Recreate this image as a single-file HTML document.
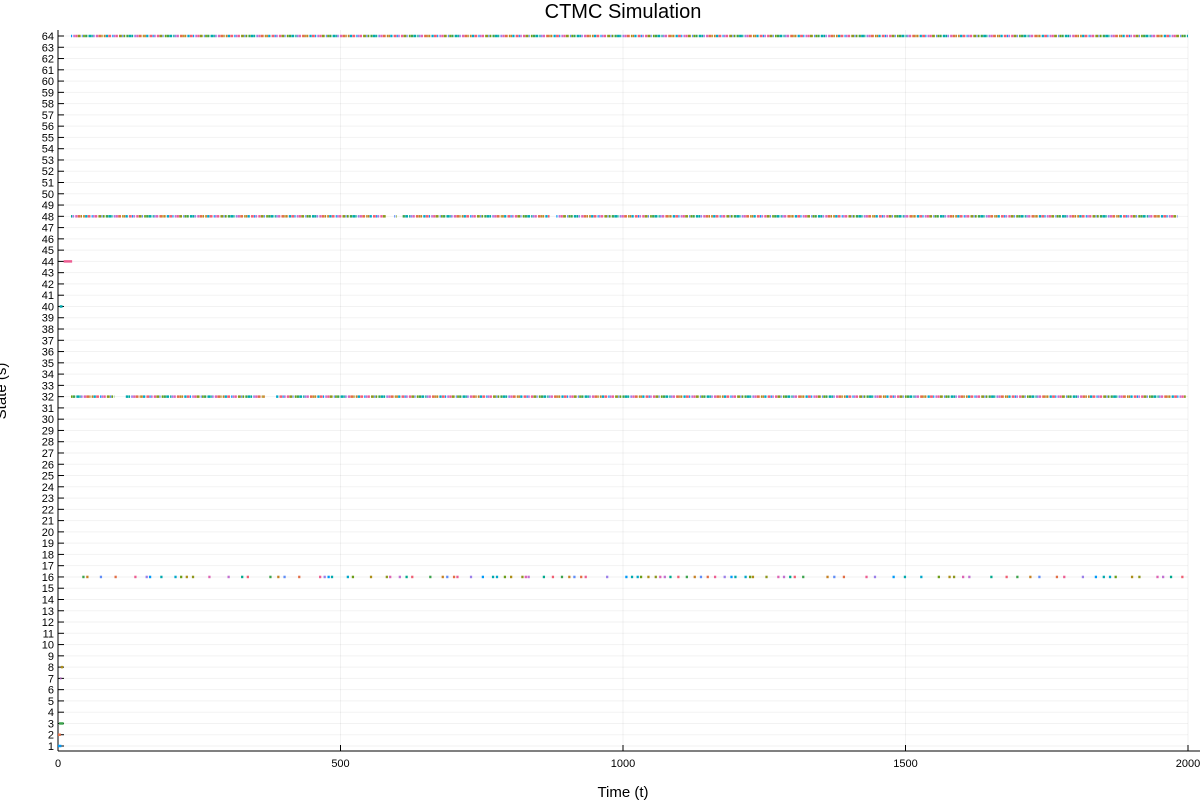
<!DOCTYPE html>
<html><head><meta charset="utf-8"><style>
body{margin:0;background:#fff}
svg{font-family:"Liberation Sans","DejaVu Sans",sans-serif}
</style></head><body>
<svg id="chart" width="1200" height="800"></svg>
<script>
const xTicks=[0,500,1000,1500,2000];
const yStates=[];for(let s=1;s<=64;s++)yStates.push(s);
// dense-occupancy rows: [state, start, end]
const denseIntervals=[
[64,23,2000],
[48,23,580],[48,595,600],[48,610,870],[48,882,1982],
[32,23,100],[32,120,366],[32,386,1996]
];
// short early visits: [state, start, end]
const earlyVisits=[[1,0,6],[2,0,5],[3,2,10],[7,4,6],[8,5,9],[40,3,8],[44,10,25]];
const earlyColors=["#009af9","#e26f46","#3da44d","#c271d2","#ac8e18","#00a9ad","#ed5e93"];
// sparse visits at state 16 (times)
const state16Times=[43,50,74,100,135,155,161,181,206,216,226,237,266,300,324,334,374,388,399,425,462,470,477,483,511,520,552,580,586,603,615,625,657,679,687,699,705,729,750,768,775,789,800,820,826,831,858,874,890,903,912,924,932,970,1004,1014,1024,1030,1043,1056,1064,1072,1082,1096,1111,1125,1136,1148,1161,1178,1190,1197,1215,1223,1228,1252,1273,1283,1294,1302,1317,1360,1372,1389,1429,1444,1477,1497,1526,1557,1576,1584,1600,1611,1650,1677,1696,1719,1735,1766,1779,1812,1835,1849,1860,1870,1899,1912,1944,1954,1968,1988];
const palette=["#009af9","#e26f46","#3da44d","#c271d2","#ac8e18","#00a9ad","#ed5e93","#c68225","#00a98d","#8e971d","#00a8cb","#9b7fe9","#618df6","#f05f73","#dd64b5","#6b9d18"];

const L=58,R=1188,T=36,B=746;
const X=t=>L+(t/2000)*(R-L);
const Y=s=>B-(s-1)/63*(B-T);
const svg=document.getElementById('chart');
const NS='http://www.w3.org/2000/svg';
function mk(tag,attrs,parent){const e=document.createElementNS(NS,tag);for(const k in attrs)e.setAttribute(k,attrs[k]);(parent||svg).appendChild(e);return e;}

const grid=mk('g',{});


yStates.forEach(s=>{mk('line',{x1:L,x2:R,y1:Y(s),y2:Y(s),stroke:'#000','stroke-opacity':0.05,'stroke-width':1},grid);});
xTicks.forEach(t=>{mk('line',{x1:X(t),x2:X(t),y1:T-6,y2:B+4,stroke:'#000','stroke-opacity':0.05,'stroke-width':1},grid);});

// axes
const ax=mk('g',{});


mk('line',{x1:L,x2:L,y1:30,y2:B+5,stroke:'#000','stroke-width':1},ax);
mk('line',{x1:L,x2:R+12,y1:B+5,y2:B+5,stroke:'#000','stroke-width':1},ax);
yStates.forEach(s=>{
  mk('line',{x1:L,x2:L+6,y1:Y(s),y2:Y(s),stroke:'#000','stroke-width':1},ax);
  const tx=mk('text',{x:L-4,y:Y(s)+4,'text-anchor':'end','font-size':11,fill:'#000'},ax);
  tx.textContent=s;
  
  
});
xTicks.forEach(t=>{
  mk('line',{x1:X(t),x2:X(t),y1:B+5,y2:B-1,stroke:'#000','stroke-width':1},ax);
  const tx=mk('text',{x:X(t),y:B+21,'text-anchor':'middle','font-size':11,fill:'#000'},ax);
  tx.textContent=t;
  
  
});

// series
const marks=mk('g',{});


let ci=0;
denseIntervals.forEach(([s,a,b])=>{
  let t=a;
  while(t<b){
    const len=2+((ci*5)%4);
    const e=mk('line',{x1:X(t),x2:X(Math.min(t+len,b)),y1:Y(s),y2:Y(s),stroke:palette[(ci*3)%palette.length],'stroke-width':2.5},marks);
    
    
    t+=len+(ci%3===0?2:0.5);
    ci++;
  }
});
earlyVisits.forEach(([s,a,b],i)=>{
  const e=mk('line',{x1:X(a),x2:X(b),y1:Y(s),y2:Y(s),stroke:earlyColors[i],'stroke-width':2.5},marks);
  
  
});
state16Times.forEach((t,i)=>{
  const e=mk('line',{x1:X(t),x2:X(t+4),y1:Y(16),y2:Y(16),stroke:palette[(i*5+2)%palette.length],'stroke-width':2.5},marks);
  
  
});

const title=mk('text',{x:623,y:18,'text-anchor':'middle','font-size':20,fill:'#000'});
title.textContent='CTMC Simulation';


const xl=mk('text',{x:623,y:797,'text-anchor':'middle','font-size':15,fill:'#000'});
xl.textContent='Time (t)';


const yl=mk('text',{x:0,y:0,'text-anchor':'middle','font-size':15,fill:'#000',transform:'translate(6,391) rotate(-90)'});
yl.textContent='State (s)';


</script>
</body></html>
